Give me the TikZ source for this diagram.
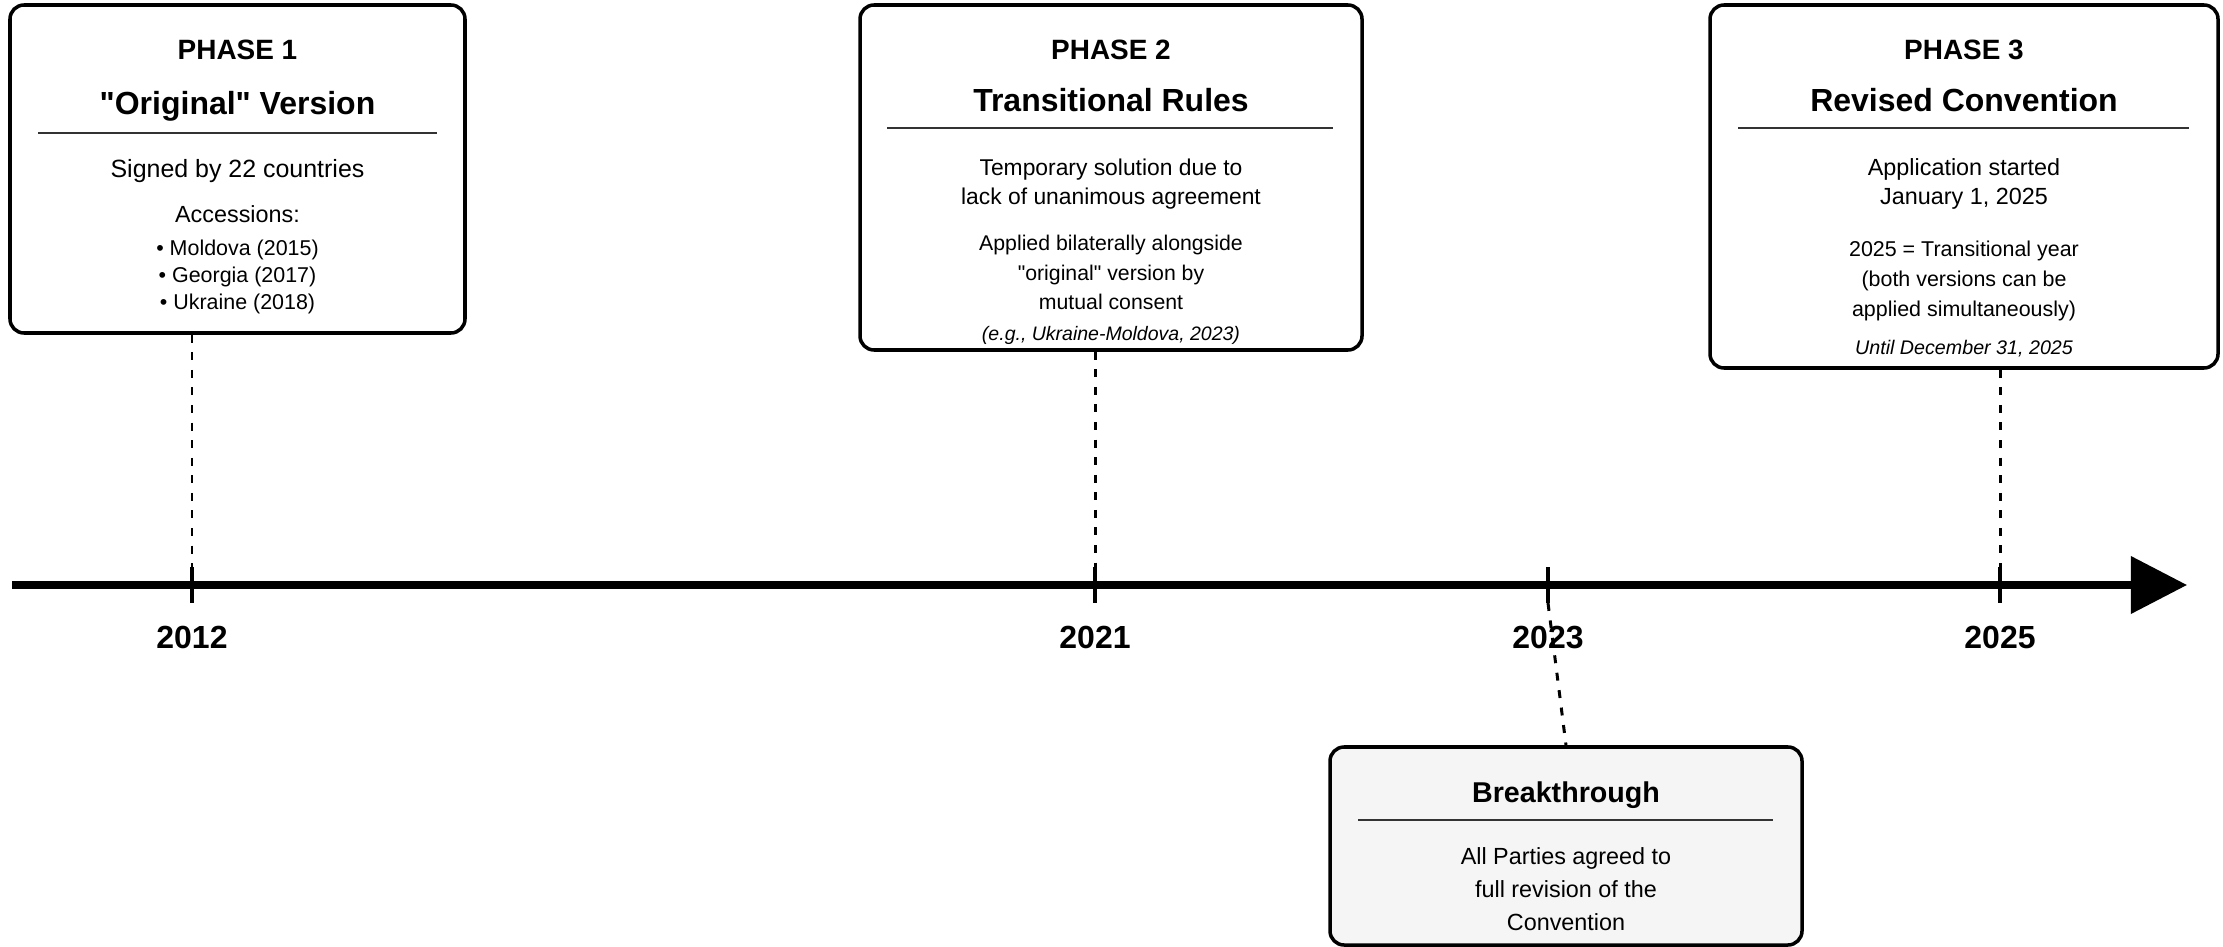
\documentclass[tikz,border=0pt]{standalone}
\usepackage{fontspec}
\setmainfont{Liberation Sans}
\usetikzlibrary{fit}
\usetikzlibrary{arrows.meta}
\definecolor{boxgray}{HTML}{F5F5F5}
\definecolor{rulegray}{HTML}{333333}
\tikzstyle{phase box}=[draw, line width=2pt, rounded corners=8pt, fill=white, inner sep=0pt]
\tikzstyle{event box}=[phase box, fill=boxgray]
\tikzstyle{box rule}=[draw=rulegray, line width=1pt]
\tikzstyle{leader}=[line width=1.7pt, dash pattern=on 4.5pt off 5.5pt]
\tikzstyle{year tick}=[line width=2.3pt]
\tikzstyle{timeline}=[line width=4pt, -{Triangle[length=32pt, width=32pt]}]
\tikzstyle{heading}=[anchor=base, inner sep=0pt, font=\fontsize{15.9}{19}\selectfont\bfseries]
\tikzstyle{big heading}=[heading, font=\fontsize{18.2}{22}\selectfont\bfseries]
\tikzstyle{year label}=[big heading]
% multi-line bodies sit on the baseline of their last line
\tikzstyle{body}=[anchor=base, inner sep=0pt, align=center]
\tikzstyle{note}=[body, font=\fontsize{11.1}{14}\selectfont\itshape]

\begin{document}
\begin{tikzpicture}[x=0.2mm, y=-0.2mm]
      \useasboundingbox (0,0) rectangle (2223,947);
      % time axis
      \coordinate (axis start) at (12,585);
      \coordinate (axis end) at (2187,585);
      \draw[timeline] (axis start) -- (axis end);
      \foreach \yr/\x in {2012/192, 2021/1095, 2023/1548, 2025/2000} {
        \coordinate (top\yr) at (\x,567);
        \coordinate (bot\yr) at (\x,603);
        \draw[year tick] (top\yr) -- (bot\yr);
        \node[year label] (lab\yr) at (\x,648) {\yr};
      }
      % phase 1
      \node[phase box, fit={(10,5) (465,333)}] (p1) {};
      \node[heading] (p1 head) at (237.5,60) {PHASE 1};
      \node[big heading] (p1 title) at (237.5,115) {\textquotedbl Original\textquotedbl{} Version};
      \draw[box rule] (38,133) -- (437,133);
      \node[body, font=\fontsize{14.2}{17}\selectfont] (p1 signed) at (237.5,178) {Signed by 22 countries};
      \node[body, font=\fontsize{13.3}{17}\selectfont] (p1 acc) at (237.5,223) {Accessions:};
      \node[body, font=\fontsize{12.2}{15.4}\selectfont] (p1 list) at (237.5,310)
        {• Moldova (2015)\\• Georgia (2017)\\• Ukraine (2018)};
      % phase 2
      \node[phase box, fit={(860,5) (1362,350)}] (p2) {};
      \node[heading] (p2 head) at (1111,60) {PHASE 2};
      \node[big heading] (p2 title) at (1111,112) {Transitional Rules};
      \draw[box rule] (887,128) -- (1333,128);
      \node[body, font=\fontsize{13}{17}\selectfont] (p2 why) at (1111,205)
        {Temporary solution due to\\lack of unanimous agreement};
      \node[body, font=\fontsize{12.1}{17}\selectfont] (p2 how) at (1111,310)
        {Applied bilaterally alongside\\\textquotedbl original\textquotedbl{} version by\\mutual consent};
      \node[note] (p2 eg) at (1111,341) {(e.g., Ukraine-Moldova, 2023)};
      % phase 3
      \node[phase box, fit={(1710,5) (2218,368)}] (p3) {};
      \node[heading] (p3 head) at (1964,60) {PHASE 3};
      \node[big heading] (p3 title) at (1964,112) {Revised Convention};
      \draw[box rule] (1738,128) -- (2189,128);
      \node[body, font=\fontsize{13.3}{17}\selectfont] (p3 start) at (1964,205)
        {Application started\\January 1, 2025};
      \node[body, font=\fontsize{12.2}{17.3}\selectfont] (p3 year) at (1964,317)
        {2025 = Transitional year\\(both versions can be\\applied simultaneously)};
      \node[note, font=\fontsize{11.2}{14}\selectfont\itshape] (p3 until) at (1964,355) {Until December 31, 2025};
      % breakthrough
      \node[event box, fit={(1330,747) (1802,945)}] (bt) {};
      \node[heading, font=\fontsize{16.3}{19}\selectfont\bfseries] (bt head) at (1566,802) {Breakthrough};
      \draw[box rule] (1358,820) -- (1773,820);
      \node[body, font=\fontsize{13.3}{18.5}\selectfont] (bt text) at (1566,930)
        {All Parties agreed to\\full revision of the\\Convention};
      % leaders
      \draw[leader] (p1.south -| top2012) -- (top2012);
      \draw[leader] (p2.south -| top2021) -- (top2021);
      \draw[leader] (p3.south -| top2025) -- (top2025);
      \draw[leader] (bot2023) -- (bt.north);
    \end{tikzpicture}
\end{document}
